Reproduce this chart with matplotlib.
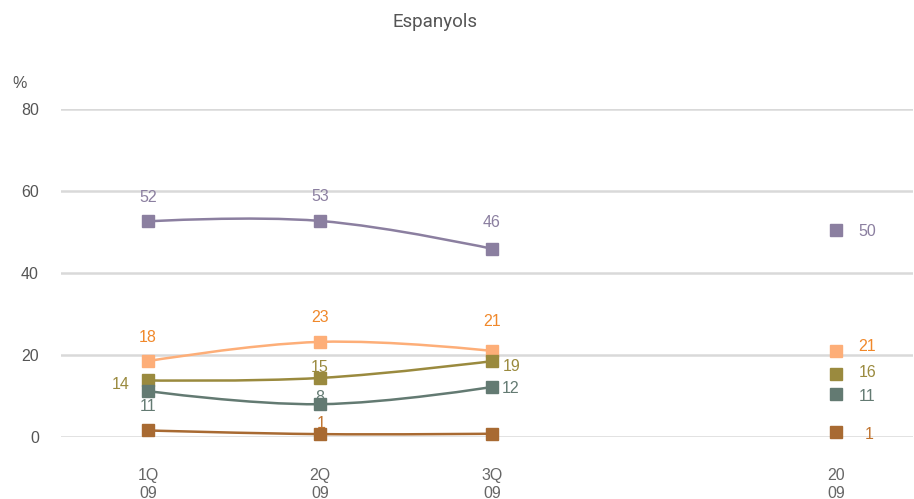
import matplotlib
matplotlib.use("Agg")
import matplotlib.pyplot as plt
from matplotlib.path import Path
from matplotlib.patches import PathPatch
from matplotlib import font_manager

families = {f.name for f in font_manager.fontManager.ttflist}
narrow = 'Liberation Sans Narrow' if 'Liberation Sans Narrow' in families else 'Liberation Sans'
plt.rcParams['font.family'] = ['Liberation Sans', 'DejaVu Sans']

# ---- data ----
title = "Espanyols"
categories = ["1Q\n09", "2Q\n09", "3Q\n09", "", "20\n09"]
quarter_pos = [0, 1, 2]
year_pos = 4

purple_q = [52.6, 52.7, 45.9]
purple_y = 50.5
orange_q = [18.5, 23.2, 21.0]
orange_y = 21.0
olive_q = [13.8, 14.4, 18.5]
olive_y = 15.4
teal_q = [11.2, 8.0, 12.2]
teal_y = 10.5
brown_q = [1.6, 0.7, 0.8]
brown_y = 1.1

purple_lab = ["52", "53", "46", "50"]
orange_lab = ["18", "23", "21", "21"]
olive_lab = ["14", "15", "19", "16"]
teal_lab = ["11", "8", "12", "11"]
brown_lab = ["", "1", "", "1"]

# label offsets in pixels (dx, dy, ha) relative to the point
series = [
    (purple_q, purple_y, purple_lab, "#8b7fa0", "#8b7fa0",
     [(0, 24, "center"), (0, 24, "center"), (0, 26, "center"), (22, -2, "left")]),
    (orange_q, orange_y, orange_lab, "#fdae78", "#f0882a",
     [(0, 24, "center"), (0, 24, "center"), (0, 29, "center"), (22, 4, "left")]),
    (olive_q, olive_y, olive_lab, "#9a8a3e", "#9a8a3e",
     [(-18, -4, "right"), (0, 10, "center"), (11, -5, "left"), (23, 1, "left")]),
    (teal_q, teal_y, teal_lab, "#637a72", "#637a72",
     [(0, -15, "center"), (0, 7, "center"), (10, -2, "left"), (23, -3, "left")]),
    (brown_q, brown_y, brown_lab, "#a86a32", "#c0732e",
     [(0, 0, "center"), (1, 11, "center"), (0, 0, "center"), (29, -2, "left")]),
]


def spline_path(xs, ys, smoothing=1.5):
    n = len(xs)
    left = [None] * n
    right = [None] * n
    for i in range(1, n - 1):
        denom = smoothing + 1
        px, py = xs[i], ys[i]
        lx, ly = xs[i - 1], ys[i - 1]
        nx, ny = xs[i + 1], ys[i + 1]
        lcx = (smoothing * px + lx) / denom
        lcy = (smoothing * py + ly) / denom
        rcx = (smoothing * px + nx) / denom
        rcy = (smoothing * py + ny) / denom
        if rcx != lcx:
            corr = (rcy - lcy) * (rcx - px) / (rcx - lcx) + py - rcy
            lcy += corr
            rcy += corr
        left[i] = (lcx, lcy)
        right[i] = (rcx, rcy)
    verts = [(xs[0], ys[0])]
    codes = [Path.MOVETO]
    for i in range(1, n):
        c1 = right[i - 1] if right[i - 1] is not None else (xs[i - 1], ys[i - 1])
        c2 = left[i] if left[i] is not None else (xs[i], ys[i])
        verts += [c1, c2, (xs[i], ys[i])]
        codes += [Path.CURVE4] * 3
    return Path(verts, codes)


fig = plt.figure(figsize=(9.14, 4.99), dpi=100)
ax = fig.add_axes([61 / 914, 1 - 437 / 499, (913 - 61) / 914, (437 - 109) / 499])
ax.set_xlim(-0.506, 4.448)
ax.set_ylim(0, 80)

for s in ax.spines.values():
    s.set_visible(False)
ax.set_yticks([0, 20, 40, 60, 80])
ax.yaxis.grid(True, color="#d9d9d9", linewidth=1.8)
ax.set_axisbelow(True)
ax.tick_params(axis="y", length=0, pad=16, labelsize=11.5, labelcolor="#555555")
ax.set_xticks(range(len(categories)))
ax.set_xticklabels(categories, fontsize=11.5, color="#666666", family=narrow,
                   linespacing=1.25)
ax.tick_params(axis="x", length=0, pad=22)

for vals, yv, labs, col, lcol, offs in series:
    path = spline_path(quarter_pos, vals)
    ax.add_patch(PathPatch(path, facecolor="none", edgecolor=col, lw=1.8,
                           clip_on=False, zorder=3))
    xs = quarter_pos + [year_pos]
    ys = vals + [yv]
    ax.plot(xs, ys, linestyle="none", marker="s", markersize=8,
            color=col, clip_on=False, zorder=4)
    for x, y, t, (dx, dy, ha) in zip(xs, ys, labs, offs):
        if not t:
            continue
        ax.annotate(t, (x, y), xytext=(dx, dy), textcoords="offset pixels",
                    ha=ha, va="center", color=lcol, fontsize=11.5,
                    zorder=5, annotation_clip=False)

fig.text(435 / 914, 1 - 22 / 499, title, ha="center", va="center",
         fontsize=13.5, color="#555555", family=["Roboto", "DejaVu Sans"])
fig.text(20 / 914, 1 - 83 / 499, "%", ha="center", va="center",
         fontsize=11.5, color="#555555")

fig.savefig("out.png", dpi=100)
